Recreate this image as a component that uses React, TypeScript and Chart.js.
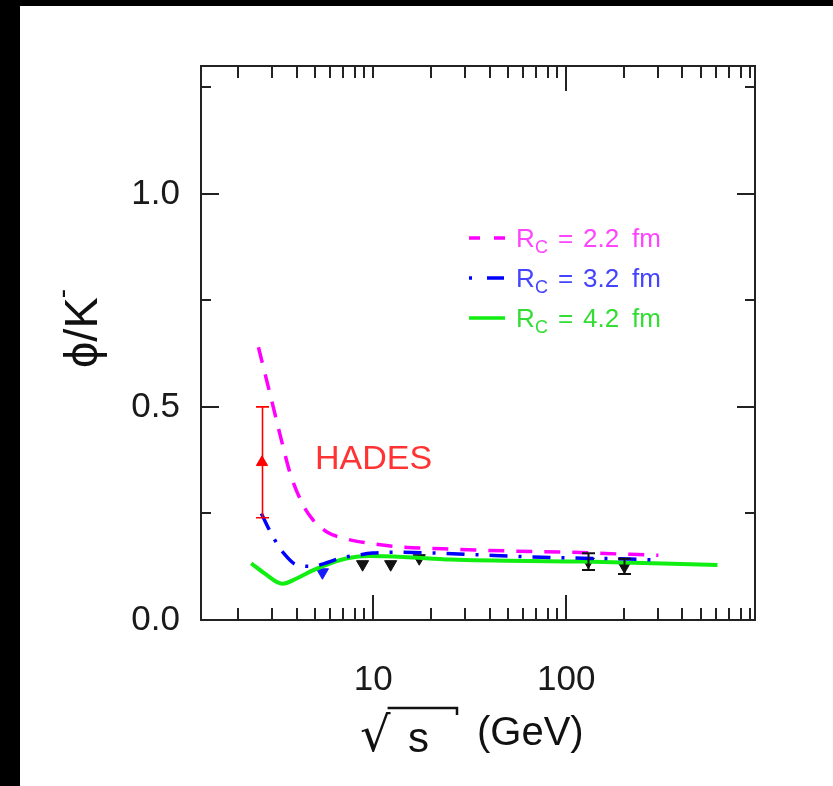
import React, { useEffect, useLayoutEffect, useRef } from 'react';
import { Chart, registerables } from 'chart.js';

Chart.register(...registerables);

// ---- axis ranges and ticks ----
const xRange = [1.28, 950];
const yRange = [0, 1.3];
const xTickValues = [2, 3, 4, 5, 6, 7, 8, 9, 10, 20, 30, 40, 50, 60, 70, 80, 90, 100, 200, 300, 400, 500, 600, 700, 800, 900];
const xLabelValues = [10, 100];
const xLabelTexts = ['10', '100'];
const yTickValues = [0, 0.25, 0.5, 0.75, 1.0, 1.25];
const yLabelValues = [0, 0.5, 1.0];
const yLabelTexts = ['0.0', '0.5', '1.0'];

// ---- model curves (sqrt(s) in GeV, phi/K-) ----
const rc22X = [2.54, 3.03, 3.37, 3.71, 4.28, 4.89, 5.78, 7.0, 9.6, 14.3, 23, 50, 104, 215, 300];
const rc22Y = [0.64, 0.5, 0.415, 0.344, 0.274, 0.234, 0.206, 0.192, 0.18, 0.171, 0.167, 0.162, 0.159, 0.154, 0.152];
const rc32X = [2.63, 3.03, 3.5, 4.03, 4.89, 5.6, 6.74, 8.26, 9.9, 12.7, 21.4, 39, 67, 122, 214, 279];
const rc32Y = [0.25, 0.194, 0.152, 0.129, 0.126, 0.133, 0.145, 0.152, 0.157, 0.159, 0.157, 0.152, 0.148, 0.145, 0.143, 0.141];
const rc42X = [2.33, 2.72, 3.38, 4.03, 4.89, 5.99, 7.33, 9.6, 14.3, 25, 122, 607];
const rc42Y = [0.133, 0.11, 0.085, 0.098, 0.117, 0.133, 0.145, 0.15, 0.148, 0.142, 0.137, 0.129];

// ---- data points ----
const hadesX = [2.65];
const hadesY = [0.37];
const hadesErr = [0.13];
const expX = [8.8, 12.3, 17.3, 130, 200];
const expY = [0.131, 0.131, 0.145, 0.137, 0.126];
const expErr = [0, 0, 0, 0.0195, 0.018];
const blueX = [5.45];
const blueY = [0.112];

// ---- legend ----
const legendSub = ['C', 'C', 'C'];
const legendVals = ['2.2', '3.2', '4.2'];

const pts = (xs: number[], ys: number[]) => xs.map((x, i) => ({ x, y: ys[i] }));

const SANS = "'Liberation Sans', Arial, sans-serif";

const frameAndTicks = {
  id: 'frameAndTicks',
  afterDatasetsDraw(chart: any) {
    const { ctx, chartArea: a, scales } = chart;
    const x = scales.x;
    const y = scales.y;
    ctx.save();
    ctx.strokeStyle = '#222';
    ctx.lineWidth = 2;
    ctx.strokeRect(a.left, a.top, a.right - a.left, a.bottom - a.top);
    ctx.beginPath();
    xTickValues.forEach((v) => {
      const px = Math.round(x.getPixelForValue(v));
      const lenB = xLabelValues.includes(v) ? 25 : 12;
      ctx.moveTo(px, a.bottom);
      ctx.lineTo(px, a.bottom - lenB);
      const lenT = v === 100 ? 25 : 12;
      ctx.moveTo(px, a.top);
      ctx.lineTo(px, a.top + lenT);
    });
    yTickValues.forEach((v) => {
      const py = Math.round(y.getPixelForValue(v));
      const len = yLabelValues.includes(v) ? 18 : 10;
      ctx.moveTo(a.left, py);
      ctx.lineTo(a.left + len, py);
      ctx.moveTo(a.right, py);
      ctx.lineTo(a.right - len, py);
    });
    ctx.stroke();
    ctx.restore();
  },
};

const errorBars = {
  id: 'errorBars',
  afterDatasetsDraw(chart: any) {
    const { ctx, scales } = chart;
    const x = scales.x;
    const y = scales.y;
    const draw = (xs: number[], ys: number[], es: number[], color: string, w: number) => {
      ctx.save();
      ctx.strokeStyle = color;
      ctx.lineWidth = w;
      xs.forEach((xv, i) => {
        if (!es[i]) return;
        const px = Math.round(x.getPixelForValue(xv)) + 0.5;
        const t = y.getPixelForValue(ys[i] + es[i]);
        const b = y.getPixelForValue(ys[i] - es[i]);
        ctx.beginPath();
        ctx.moveTo(px, t);
        ctx.lineTo(px, b);
        ctx.moveTo(px - 6.5, t);
        ctx.lineTo(px + 6.5, t);
        ctx.moveTo(px - 6.5, b);
        ctx.lineTo(px + 6.5, b);
        ctx.stroke();
      });
      ctx.restore();
    };
    draw(hadesX, hadesY, hadesErr, '#ff0000', 1.6);
    draw(expX, expY, expErr, '#111', 2);
  },
};

const texts = {
  id: 'texts',
  afterDraw(chart: any) {
    const { ctx } = chart;
    ctx.save();
    ctx.textBaseline = 'alphabetic';
    ctx.textAlign = 'left';

    // HADES label
    ctx.fillStyle = '#ff3333';
    ctx.font = `34px ${SANS}`;
    ctx.fillText('HADES', 295, 463);

    // legend
    const colors = ['#ff00ff', '#0000ff', '#11ee11'];
    const tcolors = ['#ff44ff', '#4444ff', '#33dd33'];
    const dashes = [[11, 14, 12, 100], [3, 15, 17, 100], []];
    legendVals.forEach((val, i) => {
      const ly = 232 + i * 40;
      ctx.strokeStyle = colors[i];
      ctx.lineWidth = 3.5;
      ctx.setLineDash(dashes[i]);
      ctx.beginPath();
      ctx.moveTo(449, ly);
      ctx.lineTo(485, ly);
      ctx.stroke();
      ctx.setLineDash([]);
      ctx.fillStyle = tcolors[i];
      const by = ly + 9;
      ctx.font = `26px ${SANS}`;
      ctx.fillText('R', 496, by);
      ctx.font = `18px ${SANS}`;
      ctx.fillText(legendSub[i], 515, by + 6);
      ctx.font = `26px ${SANS}`;
      ctx.fillText('=', 538, by);
      ctx.fillText(val, 563, by);
      ctx.fillText('fm', 612, by);
    });

    // y-axis title
    ctx.fillStyle = '#111';
    ctx.save();
    ctx.translate(77, 362);
    ctx.rotate(-Math.PI / 2);
    ctx.font = `47px ${SANS}`;
    ctx.fillText('ϕ/K', 0, 0);
    const w = ctx.measureText('ϕ/K').width;
    ctx.font = `28px ${SANS}`;
    ctx.fillText('-', w - 1, -26);
    ctx.restore();

    // x-axis title
    ctx.font = `48px 'DejaVu Sans', sans-serif`;
    ctx.fillText('√', 340, 745);
    const rw = ctx.measureText('√').width;
    ctx.strokeStyle = '#111';
    ctx.lineWidth = 2.5;
    ctx.beginPath();
    ctx.moveTo(340 + rw - 3, 702);
    ctx.lineTo(437, 702);
    ctx.lineTo(437, 709);
    ctx.stroke();
    ctx.font = `42px ${SANS}`;
    ctx.fillText('s', 388, 746);
    ctx.font = `40px ${SANS}`;
    ctx.fillText('(GeV)', 457, 739);
    ctx.restore();
  },
};

export default function App() {
  const ref = useRef<HTMLCanvasElement | null>(null);

  useLayoutEffect(() => {
    document.documentElement.style.background = '#fff';
    document.body.style.background = '#fff';
  }, []);

  useEffect(() => {
    if (!ref.current) return;
    const chart = new Chart(ref.current, {
      type: 'line',
      data: {
        datasets: [
          {
            label: 'Rc = 2.2 fm',
            data: pts(rc22X, rc22Y),
            borderColor: '#ff00ff',
            borderWidth: 3.5,
            borderDash: [16, 12],
            pointRadius: 0,
            cubicInterpolationMode: 'monotone',
            fill: false,
          },
          {
            label: 'Rc = 3.2 fm',
            data: pts(rc32X, rc32Y),
            borderColor: '#0000ff',
            borderWidth: 3.5,
            borderDash: [18, 11, 3, 11],
            pointRadius: 0,
            cubicInterpolationMode: 'monotone',
            fill: false,
          },
          {
            label: 'Rc = 4.2 fm',
            data: pts(rc42X, rc42Y),
            borderColor: '#11ee11',
            borderWidth: 4,
            pointRadius: 0,
            cubicInterpolationMode: 'monotone',
            fill: false,
          },
          {
            label: 'HADES',
            data: pts(hadesX, hadesY),
            showLine: false,
            pointStyle: 'triangle',
            pointRadius: 6.5,
            backgroundColor: '#ff0000',
            borderColor: '#ff0000',
            borderWidth: 1,
          },
          {
            label: 'data',
            data: pts(expX, expY),
            showLine: false,
            pointStyle: 'triangle',
            rotation: 180,
            pointRadius: 7,
            backgroundColor: '#111',
            borderColor: '#111',
            borderWidth: 1,
          },
          {
            label: 'blue point',
            data: pts(blueX, blueY),
            showLine: false,
            pointStyle: 'triangle',
            rotation: 180,
            pointRadius: 7,
            backgroundColor: '#1a1aff',
            borderColor: '#1a1aff',
            borderWidth: 1,
          },
        ],
      },
      options: {
        responsive: false,
        animation: false,
        devicePixelRatio: 1,
        events: [],
        layout: { padding: { top: 60, right: 78, left: 0, bottom: 0 } },
        plugins: { legend: { display: false }, tooltip: { enabled: false } },
        scales: {
          x: {
            type: 'logarithmic',
            min: xRange[0],
            max: xRange[1],
            afterBuildTicks: (s: any) => {
              s.ticks = xTickValues.map((v) => ({ value: v }));
            },
            afterFit: (s: any) => {
              s.height = 166;
            },
            grid: { display: false, drawTicks: false },
            border: { display: false },
            ticks: {
              autoSkip: false,
              maxRotation: 0,
              minRotation: 0,
              padding: 39,
              color: '#1a1a1a',
              font: { family: SANS, size: 35 },
              callback: (v: any) => {
                const i = xLabelValues.indexOf(Number(v));
                return i >= 0 ? xLabelTexts[i] : '';
              },
            },
          },
          y: {
            type: 'linear',
            min: yRange[0],
            max: yRange[1],
            afterBuildTicks: (s: any) => {
              s.ticks = yTickValues.map((v) => ({ value: v }));
            },
            afterFit: (s: any) => {
              s.width = 181;
            },
            grid: { display: false, drawTicks: false },
            border: { display: false },
            ticks: {
              autoSkip: false,
              padding: 21,
              color: '#1a1a1a',
              font: { family: SANS, size: 35 },
              callback: (v: any) => {
                const i = yLabelValues.indexOf(Number(v));
                return i >= 0 ? yLabelTexts[i] : '';
              },
            },
          },
        },
      },
      plugins: [frameAndTicks, errorBars, texts],
    } as any);
    return () => chart.destroy();
  }, []);

  return (
    <>
      <div style={{ position: 'absolute', left: 0, top: 0, width: 20, height: 786, background: '#000' }} />
      <div style={{ position: 'absolute', left: 0, top: 0, width: 833, height: 6, background: '#000' }} />
      <canvas
        ref={ref}
        width={813}
        height={780}
        style={{ position: 'absolute', left: 20, top: 6, display: 'block', background: '#fff' }}
      />
    </>
  );
}
